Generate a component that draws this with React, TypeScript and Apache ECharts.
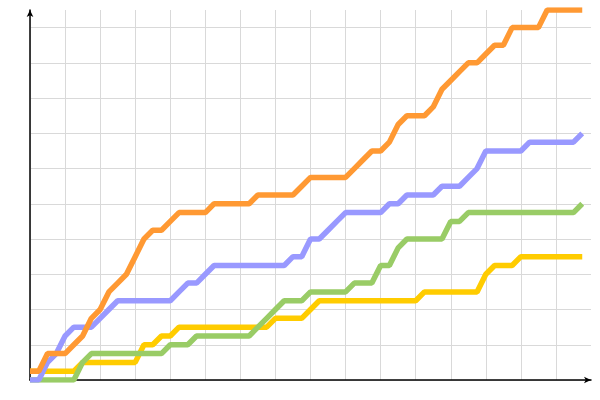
import React, { useRef, useEffect } from 'react'
import * as echarts from 'echarts'

// 64 time steps, cumulative counts per series
const steps = Array.from({ length: 64 }, (_, i) => i)

const orangeValues = [
  1, 1, 3, 3, 3, 4, 5, 7, 8, 10,
  11, 12, 14, 16, 17, 17, 18, 19, 19, 19,
  19, 20, 20, 20, 20, 20, 21, 21, 21, 21,
  21, 22, 23, 23, 23, 23, 23, 24, 25, 26,
  26, 27, 29, 30, 30, 30, 31, 33, 34, 35,
  36, 36, 37, 38, 38, 40, 40, 40, 40, 42,
  42, 42, 42, 42
]

const blueValues = [
  0, 0, 2, 3, 5, 6, 6, 6, 7, 8,
  9, 9, 9, 9, 9, 9, 9, 10, 11, 11,
  12, 13, 13, 13, 13, 13, 13, 13, 13, 13,
  14, 14, 16, 16, 17, 18, 19, 19, 19, 19,
  19, 20, 20, 21, 21, 21, 21, 22, 22, 22,
  23, 24, 26, 26, 26, 26, 26, 27, 27, 27,
  27, 27, 27, 28
]

const greenValues = [
  0, 0, 0, 0, 0, 0, 2, 3, 3, 3,
  3, 3, 3, 3, 3, 3, 4, 4, 4, 5,
  5, 5, 5, 5, 5, 5, 6, 7, 8, 9,
  9, 9, 10, 10, 10, 10, 10, 11, 11, 11,
  13, 13, 15, 16, 16, 16, 16, 16, 18, 18,
  19, 19, 19, 19, 19, 19, 19, 19, 19, 19,
  19, 19, 19, 20
]

const yellowValues = [
  1, 1, 1, 1, 1, 1, 2, 2, 2, 2,
  2, 2, 2, 4, 4, 5, 5, 6, 6, 6,
  6, 6, 6, 6, 6, 6, 6, 6, 7, 7,
  7, 7, 8, 9, 9, 9, 9, 9, 9, 9,
  9, 9, 9, 9, 9, 10, 10, 10, 10, 10,
  10, 10, 12, 13, 13, 13, 14, 14, 14, 14,
  14, 14, 14, 14
]

// drawn bottom to top: orange ends up over blue, green over yellow
const seriesList = [
  { name: 'yellow', color: '#ffcc00', values: yellowValues },
  { name: 'green', color: '#99cc66', values: greenValues },
  { name: 'blue', color: '#9999ff', values: blueValues },
  { name: 'orange', color: '#ff9933', values: orangeValues }
]

const axisBase = {
  type: 'value',
  min: 0,
  interval: 4,
  axisLine: {
    show: true,
    symbol: ['none', 'arrow'],
    symbolSize: [5, 7],
    lineStyle: { color: '#000', width: 1.5 }
  },
  axisTick: { show: false },
  axisLabel: { show: false },
  splitLine: {
    show: true,
    showMaxLine: false,
    lineStyle: { color: '#d9d9d9', width: 1 }
  }
}

const App: React.FC = () => {
  const chartRef = useRef<HTMLDivElement>(null)

  useEffect(() => {
    if (!chartRef.current) return
    const chart = echarts.init(chartRef.current, null, { renderer: 'svg' })

    chart.setOption({
      animation: false,
      grid: { left: 30, right: 9, top: 10, bottom: 20 },
      xAxis: { ...axisBase, max: 64 },
      yAxis: { ...axisBase, max: 42 },
      series: seriesList.map(s => ({
        name: s.name,
        type: 'line',
        data: steps.map(i => [i, s.values[i]]),
        symbol: 'none',
        lineStyle: { color: s.color, width: 5.5 },
        itemStyle: { color: s.color }
      }))
    })

    return () => {
      chart.dispose()
    }
  }, [])

  return (
    <div
      ref={chartRef}
      style={{ position: 'fixed', left: 0, top: 0, width: 600, height: 400, background: '#fff' }}
    />
  )
}

export default App
